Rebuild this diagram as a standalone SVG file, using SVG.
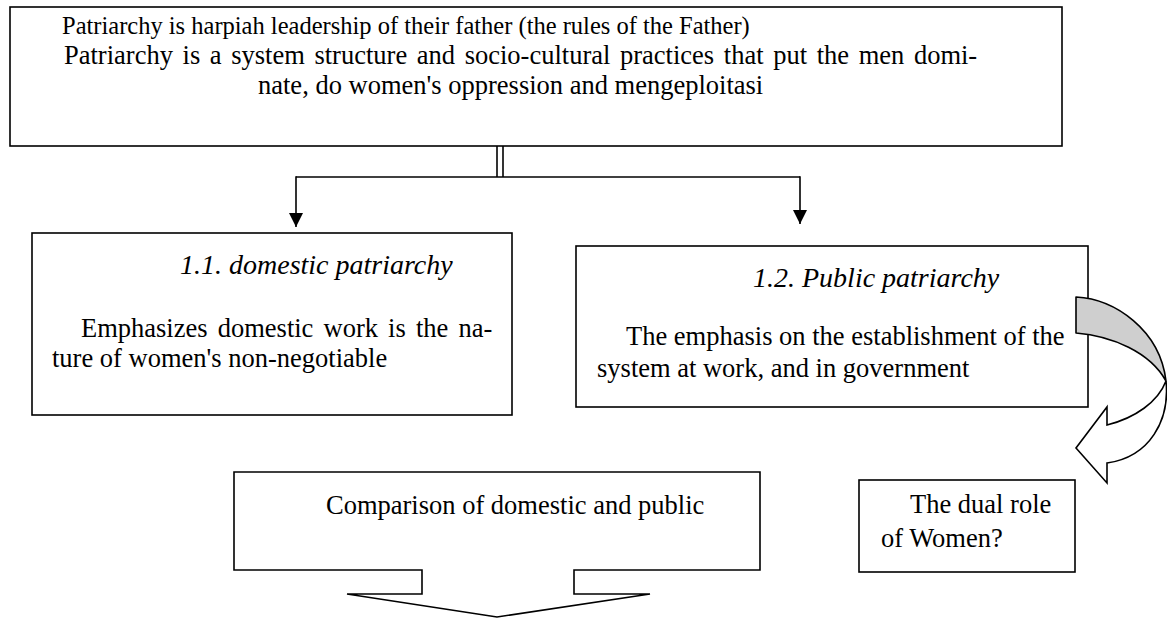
<svg xmlns="http://www.w3.org/2000/svg" width="1167" height="619" viewBox="0 0 1167 619">
<style>
.box{fill:#fff;stroke:#000;stroke-width:1.6}
.ln{fill:none;stroke:#000;stroke-width:1.6}
.t{font-family:"Liberation Serif","Times New Roman",serif;font-size:26.5px;fill:#000}
.i{font-style:italic;font-size:28px}
</style>
<defs>
<marker id="ah" viewBox="0 0 10 10" refX="10" refY="5" markerWidth="14" markerHeight="14" markerUnits="userSpaceOnUse" orient="auto">
<path d="M0,0 L10,5 L0,10 Z" fill="#000"/>
</marker>
</defs>
<rect width="1167" height="619" fill="#fff"/>
<g id="connectors">
<line class="ln" x1="497" y1="146" x2="497" y2="177"/>
<line class="ln" x1="503" y1="146" x2="503" y2="177"/>
<line class="ln" x1="296" y1="177" x2="800" y2="177"/>
<line class="ln" x1="296" y1="176.2" x2="296" y2="227" marker-end="url(#ah)"/>
<line class="ln" x1="800" y1="176.2" x2="800" y2="224" marker-end="url(#ah)"/>
</g>
<g id="top">
<rect class="box" x="10" y="7" width="1052" height="139"/>
<text class="t" x="62" y="34" style="font-size:24.5px">Patriarchy is harpiah leadership of their father (the rules of the Father)</text>
<text class="t" x="64" y="64" word-spacing="3">Patriarchy is a system structure and socio-cultural practices that put the men domi-</text>
<text class="t" x="258" y="94">nate, do women's oppression and mengeploitasi</text>
</g>
<g id="domestic">
<rect class="box" x="32" y="233" width="480" height="182"/>
<text class="t i" x="180" y="274">1.1. domestic patriarchy</text>
<text class="t" x="81" y="337" word-spacing="3.5">Emphasizes domestic work is the na-</text>
<text class="t" x="52" y="367">ture of women's non-negotiable</text>
</g>
<g id="public">
<rect class="box" x="576" y="246" width="512" height="161"/>
<text class="t i" x="753" y="287">1.2. Public patriarchy</text>
<text class="t" x="626" y="345">The emphasis on the establishment of the</text>
<text class="t" x="597" y="377">system at work, and in government</text>
</g>
<g id="curved-arrow">
<path d="M1076,297 C1115,299 1160,330 1166,381 C1150,352 1112,336 1076,333 Z" fill="#cfcfcf" stroke="#000" stroke-width="1.6" stroke-linejoin="round"/>
<path d="M1166,381 C1170,420 1150,457 1107,463 L1107,483 L1076,448 L1107,407 L1107,425 C1135,418 1158,402 1166,381 Z" fill="#fff" stroke="#000" stroke-width="1.6"/>
</g>
<g id="comparison">
<path class="box" d="M234,472 L760,472 L760,570 L574,570 L574,594 L650,594 L497,617 L347,594 L422,594 L422,570 L234,570 Z"/>
<text class="t" x="326" y="514">Comparison of domestic and public</text>
</g>
<g id="dual">
<rect class="box" x="859" y="480" width="216" height="92"/>
<text class="t" x="910" y="513">The dual role</text>
<text class="t" x="881" y="547">of Women?</text>
</g>
</svg>
